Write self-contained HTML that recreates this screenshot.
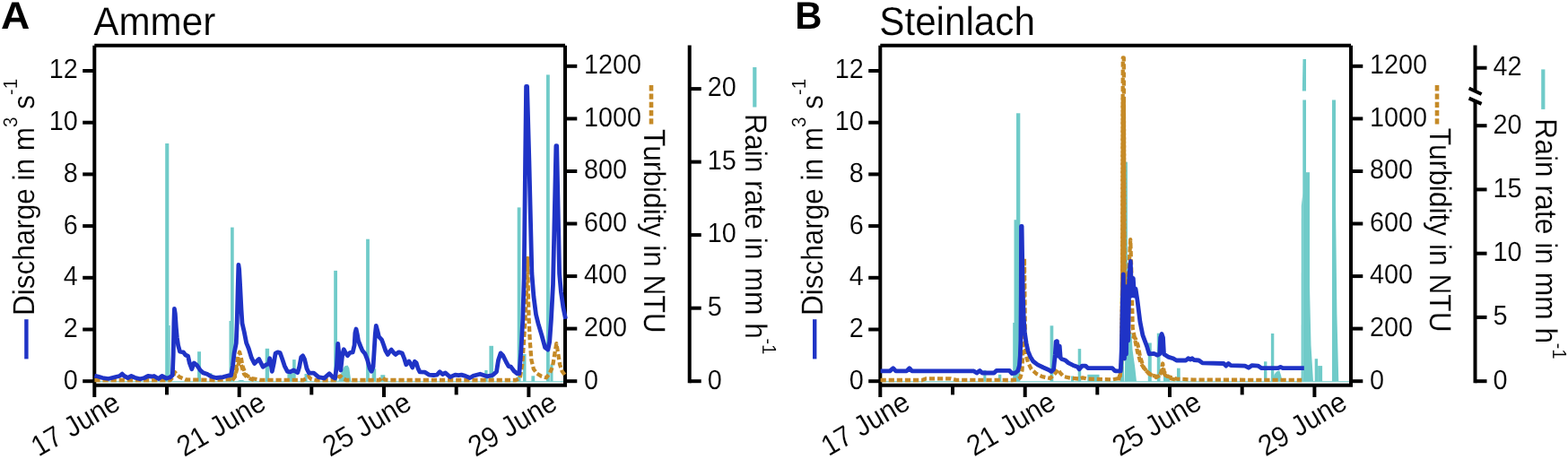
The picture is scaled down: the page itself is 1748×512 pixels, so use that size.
<!DOCTYPE html>
<html lang="en">
<head>
<meta charset="utf-8">
<title>Discharge, turbidity and rain rate: Ammer and Steinlach</title>
<style>
html,body{margin:0;padding:0;background:#fff;}
body{width:1748px;height:512px;overflow:hidden;}
svg{display:block;font-family:"Liberation Sans",Arial,Helvetica,sans-serif;fill:#000;}
text{stroke:#fff;stroke-width:0.15px;paint-order:fill stroke;text-rendering:geometricPrecision;}
text.b{stroke:none;}
</style>
</head>
<body>
<svg width="1748" height="512" viewBox="0 0 1748 512">
<rect x="0" y="0" width="1748" height="512" fill="#fff"/>
<g stroke="#000" stroke-width="4.0" fill="none" stroke-linecap="butt">
<path d="M105.3 443 V50.7 M105.3 50.7 H630.0 M630.0 50.7 V429.8 H105.3"/>
<path d="M92.2 425.2 H105.3"/>
<path d="M630.0 425.2 H643.3"/>
<path d="M92.2 367.5 H105.3"/>
<path d="M630.0 366.6 H643.3"/>
<path d="M92.2 309.8 H105.3"/>
<path d="M630.0 308.1 H643.3"/>
<path d="M92.2 252.1 H105.3"/>
<path d="M630.0 249.5 H643.3"/>
<path d="M92.2 194.4 H105.3"/>
<path d="M630.0 191.0 H643.3"/>
<path d="M92.2 136.7 H105.3"/>
<path d="M630.0 132.4 H643.3"/>
<path d="M92.2 79.0 H105.3"/>
<path d="M630.0 73.8 H643.3"/>
<path d="M186.0 429.8 V440.4"/>
<path d="M266.7 429.8 V443.0"/>
<path d="M347.3 429.8 V440.4"/>
<path d="M428.0 429.8 V443.0"/>
<path d="M508.7 429.8 V440.4"/>
<path d="M589.4 429.8 V443.0"/>
</g>
<g fill="#70cbc9">
<rect x="107.3" y="425.2" width="520.7" height="1.0"/>
<rect x="184.2" y="160.0" width="4.1" height="265.8"/>
<rect x="188.3" y="363.0" width="1.5" height="62.8"/>
<rect x="220.1" y="392.2" width="3.9" height="33.6"/>
<rect x="234.0" y="416.3" width="2.6" height="9.5"/>
<rect x="255.5" y="358.0" width="1.7" height="67.8"/>
<rect x="257.1" y="253.6" width="3.6" height="172.2"/>
<rect x="295.7" y="388.8" width="4.4" height="37.0"/>
<rect x="320.4" y="417.0" width="5.8" height="8.8"/>
<rect x="326.1" y="401.1" width="3.6" height="24.7"/>
<rect x="339.5" y="417.0" width="3.1" height="8.8"/>
<rect x="372.2" y="301.9" width="3.8" height="123.9"/>
<rect x="408.1" y="266.7" width="3.8" height="159.1"/>
<rect x="414.7" y="411.3" width="4.5" height="14.5"/>
<rect x="424.3" y="418.2" width="5.0" height="7.6"/>
<rect x="540.3" y="412.9" width="3.3" height="12.9"/>
<rect x="545.4" y="385.8" width="4.6" height="40.0"/>
<rect x="576.7" y="231.4" width="3.8" height="194.4"/>
<rect x="583.0" y="395.0" width="3.5" height="30.8"/>
<rect x="592.4" y="419.3" width="3.8" height="6.5"/>
<rect x="609.0" y="83.4" width="3.8" height="342.4"/>
<rect x="613.4" y="406.6" width="3.1" height="19.2"/>
<polygon points="377.0,425.5 379.8,418.0 381.0,414.0 384.0,408.5 387.5,407.4 389.3,410.5 390.6,420.0 391.5,425.5"/>
<polygon points="264.0,425.5 267.0,424.0 271.0,424.0 273.0,425.5"/>
</g>
<polyline points="259.0,424.3 262.0,420.0 264.5,410.0 267.0,403.0 269.5,409.0 272.0,417.0 276.0,421.5 283.0,424.0" fill="none" stroke="#c58a27" stroke-width="4.3" stroke-dasharray="6.2 2.9" stroke-linejoin="round"/>
<polyline points="105.4,424.0 190.0,424.0 193.0,420.0 194.8,415.0 197.0,417.5 200.0,420.5 206.8,423.5 240.0,424.0 258.0,423.0 261.4,420.5 263.5,410.0 265.5,397.0 267.1,392.8 268.6,398.0 270.3,408.0 274.1,418.2 280.4,422.0 290.0,423.8 338.0,424.0 341.0,422.5 343.9,420.0 347.0,423.0 352.0,424.0 375.0,424.0 377.3,420.5 379.5,419.5 382.0,422.0 386.0,424.0 423.0,424.0 426.0,420.8 429.0,423.5 435.0,424.0 575.0,424.0 579.7,421.8 582.2,406.6 584.0,381.2 585.5,355.8 587.3,317.7 588.2,288.0 588.9,330.4 589.6,355.8 590.8,381.2 592.4,401.5 594.9,411.7 598.7,416.7 603.8,419.8 608.9,421.3 612.7,416.7 616.0,409.1 618.5,393.9 620.3,383.2 622.1,393.9 624.1,406.6 626.7,414.2 630.5,419.3" fill="none" stroke="#c58a27" stroke-width="4.3" stroke-dasharray="6.2 2.9" stroke-linejoin="round"/>
<polyline points="105.4,419.1 109.3,420.0 114.2,421.5 121.0,422.5 128.8,420.5 133.2,419.5 136.2,417.1 138.6,419.5 142.5,421.5 146.4,419.5 150.3,421.2 156.2,422.8 161.1,421.5 165.0,419.5 168.9,420.0 171.8,419.5 176.7,422.5 180.6,419.5 185.5,422.0 189.4,421.0 192.3,418.7 193.2,395.4 193.9,360.0 194.4,344.5 195.3,350.0 196.3,365.0 197.3,376.3 198.6,385.2 200.5,392.2 204.3,392.8 206.8,396.0 209.6,397.3 211.3,404.9 213.8,411.8 216.3,404.9 219.5,407.4 223.3,413.0 226.5,415.9 230.9,417.2 235.4,420.0 241.1,421.5 248.7,420.6 254.4,419.0 257.6,418.7 259.5,408.1 261.1,394.1 263.3,382.7 264.2,360.0 265.2,320.0 265.9,295.3 266.6,300.0 267.6,318.0 269.0,345.0 270.0,360.6 272.2,370.0 274.7,382.7 277.3,389.0 280.4,399.2 283.6,405.5 286.1,403.0 288.7,400.5 290.6,404.3 293.1,409.3 296.9,406.8 299.4,406.0 300.7,399.8 301.9,405.0 303.3,414.3 305.2,405.5 307.1,394.1 309.6,392.8 312.2,393.5 314.7,400.5 317.2,408.1 320.4,414.3 323.6,414.9 327.4,413.0 331.8,415.6 333.7,409.3 335.7,398.6 337.6,396.9 339.5,400.5 342.0,411.1 344.5,416.2 350.0,416.2 355.1,420.6 361.4,421.9 367.1,416.8 370.9,420.6 373.5,421.9 375.4,408.1 376.7,383.3 377.9,395.4 379.8,413.0 381.7,395.4 383.3,389.7 385.5,394.1 387.4,396.7 390.0,393.5 393.2,392.8 395.1,385.2 395.9,371.3 397.0,367.0 398.2,372.5 399.5,380.2 402.0,386.5 403.9,390.9 407.1,394.8 409.7,401.7 412.2,411.1 414.1,414.3 416.0,409.3 417.3,389.0 418.3,372.5 419.3,363.3 421.1,370.0 422.4,375.7 425.5,378.9 427.4,384.0 430.0,391.6 432.3,395.4 434.4,392.2 436.3,390.1 438.9,393.5 440.8,395.4 444.6,392.8 448.4,394.1 450.9,400.5 452.8,406.8 456.0,403.0 457.6,405.5 459.8,410.0 462.3,403.3 464.2,404.9 466.1,411.1 468.0,414.9 473.8,415.2 478.2,418.1 483.3,418.5 487.1,418.1 490.3,414.7 493.4,417.5 496.6,415.9 501.7,420.6 507.4,418.1 511.2,418.7 514.4,418.1 518.8,419.4 523.9,421.5 527.6,419.3 535.2,417.2 542.9,419.8 549.2,418.5 553.5,414.7 555.6,401.5 558.1,393.9 560.6,396.4 564.4,404.0 567.0,408.6 569.5,409.1 573.3,414.2 576.4,416.7 578.9,416.7 580.9,391.3 582.8,355.8 584.2,310.0 585.6,180.0 586.6,96.3 587.6,96.3 589.9,180.0 592.9,305.0 594.9,330.4 597.5,350.7 600.0,360.9 603.8,373.6 607.6,387.5 610.9,390.1 612.7,381.2 614.5,355.8 616.5,317.7 619.9,162.7 620.7,162.7 623.6,305.0 625.4,325.3 627.9,343.1 630.5,355.8" fill="none" stroke="#1f33c6" stroke-width="4.8" stroke-linejoin="round" stroke-linecap="butt"/>
<text transform="translate(86.70 433.60) scale(1.000 1.060)" font-size="28.8" text-anchor="end">0</text>
<text transform="translate(86.70 375.90) scale(1.000 1.060)" font-size="28.8" text-anchor="end">2</text>
<text transform="translate(86.70 318.20) scale(1.000 1.060)" font-size="28.8" text-anchor="end">4</text>
<text transform="translate(86.70 260.50) scale(1.000 1.060)" font-size="28.8" text-anchor="end">6</text>
<text transform="translate(86.70 202.80) scale(1.000 1.060)" font-size="28.8" text-anchor="end">8</text>
<text transform="translate(86.70 145.10) scale(1.000 1.060)" font-size="28.8" text-anchor="end">10</text>
<text transform="translate(86.70 87.40) scale(1.000 1.060)" font-size="28.8" text-anchor="end">12</text>
<text transform="translate(650.90 433.60) scale(1.000 1.060)" font-size="28.8" text-anchor="start">0</text>
<text transform="translate(650.90 375.04) scale(1.000 1.060)" font-size="28.8" text-anchor="start">200</text>
<text transform="translate(650.90 316.48) scale(1.000 1.060)" font-size="28.8" text-anchor="start">400</text>
<text transform="translate(650.90 257.92) scale(1.000 1.060)" font-size="28.8" text-anchor="start">600</text>
<text transform="translate(650.90 199.36) scale(1.000 1.060)" font-size="28.8" text-anchor="start">800</text>
<text transform="translate(650.90 140.80) scale(1.000 1.060)" font-size="28.8" text-anchor="start">1000</text>
<text transform="translate(650.90 82.24) scale(1.000 1.060)" font-size="28.8" text-anchor="start">1200</text>
<text transform="translate(136.00 455.30) rotate(-30.5) scale(1.000 1.075)" font-size="30.3" text-anchor="end">17 June</text>
<text transform="translate(298.41 455.30) rotate(-30.5) scale(1.000 1.075)" font-size="30.3" text-anchor="end">21 June</text>
<text transform="translate(460.82 455.30) rotate(-30.5) scale(1.000 1.075)" font-size="30.3" text-anchor="end">25 June</text>
<text transform="translate(623.23 455.30) rotate(-30.5) scale(1.000 1.075)" font-size="30.3" text-anchor="end">29 June</text>
<text transform="translate(1.10 32.20) scale(1.040 1.000)" font-size="43.0" text-anchor="start" font-weight="bold" class="b">A</text>
<text transform="translate(104.30 39.30) scale(1.000 1.055)" font-size="42.2" text-anchor="start">Ammer</text>
<text transform="translate(38.20 352.00) rotate(-90.0) scale(1.000 1.070)" font-size="31.5" text-anchor="start">Discharge in m<tspan dy="-17.6" font-size="20.5">3</tspan><tspan dy="17.6"> s</tspan><tspan dy="-17.6" dx="0" font-size="20.5">-1</tspan></text>
<path d="M29.4 356.2 V400.4" stroke="#1f33c6" stroke-width="4.4"/>
<text transform="translate(718.40 144.00) rotate(90.0) scale(1.000 1.070)" font-size="31.7" text-anchor="start">Turbidity in NTU</text>
<path d="M726.0 95.1 V138.6" stroke="#c58a27" stroke-width="4.6" stroke-dasharray="6.3 3"/>
<g stroke="#000" stroke-width="4" fill="none">
<path d="M768.7 50.5 V427.2"/>
<path d="M768.7 425.2 H781.7"/>
<path d="M768.7 343.7 H781.7"/>
<path d="M768.7 262.1 H781.7"/>
<path d="M768.7 180.6 H781.7"/>
<path d="M768.7 99.1 H781.7"/>
</g>
<text transform="translate(788.80 433.50) scale(1.000 1.060)" font-size="28.8" text-anchor="start">0</text>
<text transform="translate(788.80 351.97) scale(1.000 1.060)" font-size="28.8" text-anchor="start">5</text>
<text transform="translate(788.80 270.45) scale(1.000 1.060)" font-size="28.8" text-anchor="start">10</text>
<text transform="translate(788.80 188.93) scale(1.000 1.060)" font-size="28.8" text-anchor="start">15</text>
<text transform="translate(788.80 107.40) scale(1.000 1.060)" font-size="28.8" text-anchor="start">20</text>
<path d="M841.3 75 V119.5" stroke="#70cbc9" stroke-width="4.2"/>
<text transform="translate(830.70 127.00) rotate(90.0) scale(1.000 1.070)" font-size="31.8" text-anchor="start">Rain rate in mm h<tspan dy="-18.2" dx="-0.8" font-size="20.5">-1</tspan></text>
<g stroke="#000" stroke-width="4.0" fill="none" stroke-linecap="butt">
<path d="M981.3 443 V50.7 M981.3 50.7 H1506.0 M1506.0 50.7 V429.8 H981.3"/>
<path d="M968.2 425.2 H981.3"/>
<path d="M1506.0 425.2 H1519.3"/>
<path d="M968.2 367.5 H981.3"/>
<path d="M1506.0 366.6 H1519.3"/>
<path d="M968.2 309.8 H981.3"/>
<path d="M1506.0 308.1 H1519.3"/>
<path d="M968.2 252.1 H981.3"/>
<path d="M1506.0 249.5 H1519.3"/>
<path d="M968.2 194.4 H981.3"/>
<path d="M1506.0 191.0 H1519.3"/>
<path d="M968.2 136.7 H981.3"/>
<path d="M1506.0 132.4 H1519.3"/>
<path d="M968.2 79.0 H981.3"/>
<path d="M1506.0 73.8 H1519.3"/>
<path d="M1062.0 429.8 V440.4"/>
<path d="M1142.7 429.8 V443.0"/>
<path d="M1223.3 429.8 V440.4"/>
<path d="M1304.0 429.8 V443.0"/>
<path d="M1384.7 429.8 V440.4"/>
<path d="M1465.4 429.8 V443.0"/>
</g>
<g fill="#70cbc9">
<rect x="983.3" y="425.2" width="520.7" height="1.0"/>
<rect x="1096.3" y="412.8" width="3.1" height="13.0"/>
<rect x="1112.9" y="417.8" width="3.4" height="8.0"/>
<rect x="1129.2" y="360.0" width="2.0" height="65.8"/>
<rect x="1130.5" y="245.2" width="2.9" height="180.6"/>
<rect x="1133.0" y="126.3" width="4.3" height="299.5"/>
<rect x="1170.6" y="363.3" width="3.7" height="62.5"/>
<rect x="1201.7" y="389.1" width="3.5" height="36.7"/>
<rect x="1212.3" y="417.8" width="13.2" height="8.0"/>
<rect x="1194.0" y="419.5" width="3.0" height="6.3"/>
<rect x="1249.0" y="355.0" width="4.0" height="70.8"/>
<rect x="1254.3" y="180.7" width="2.6" height="245.1"/>
<rect x="1279.8" y="382.5" width="4.0" height="43.3"/>
<rect x="1289.8" y="371.7" width="3.7" height="54.1"/>
<rect x="1312.0" y="410.7" width="3.7" height="15.1"/>
<rect x="1297.0" y="419.0" width="7.0" height="6.8"/>
<rect x="1409.0" y="403.3" width="3.4" height="22.5"/>
<rect x="1416.9" y="372.0" width="3.4" height="53.8"/>
<rect x="1465.7" y="400.2" width="3.4" height="25.6"/>
<rect x="1469.1" y="408.1" width="5.0" height="17.7"/>
<rect x="1452.3" y="111.5" width="3.7" height="314.3"/>
<rect x="1455.6" y="192.2" width="4.4" height="233.6"/>
<rect x="1485.0" y="111.5" width="4.0" height="314.3"/>
<polygon points="1419.3,425.5 1420.3,418.0 1423.3,414.2 1426.3,413.3 1428.0,418.5 1429.6,425.5"/>
<polygon points="1253.5,425.5 1254.5,400.0 1258.2,372.0 1261.5,371.0 1262.5,390.0 1265.3,410.0 1267.0,425.5"/>
<polygon points="1450.6,425.5 1450.8,230.0 1452.4,215.0 1452.4,425.5"/>
<polygon points="1460.0,425.5 1460.0,320.0 1461.5,385.0 1464.0,425.5"/>
<polygon points="1488.8,425.5 1488.8,210.0 1490.4,350.0 1492.3,425.5"/>
<polygon points="1452.3,101.6 1451.8,101.6 1452.5,66.0 1456.0,66.0 1456.0,101.6"/>
</g>
<polyline points="1247.0,424.3 1250.0,410.0 1251.2,320.0 1251.8,110.0 1252.8,110.0 1253.8,330.0 1256.0,360.0 1259.0,372.0 1263.0,375.0 1266.0,378.0 1268.5,385.0 1271.0,398.0 1275.0,410.0 1281.0,417.0 1289.0,421.0 1294.0,418.0 1296.3,412.0 1298.5,418.0 1304.0,422.0 1312.0,424.0" fill="none" stroke="#c58a27" stroke-width="4.3" stroke-dasharray="6.2 2.9" stroke-linejoin="round"/>
<polyline points="981.6,424.0 1028.0,424.0 1032.0,422.4 1060.0,422.4 1066.0,423.8 1128.0,424.0 1134.0,423.5 1137.5,421.0 1139.5,413.0 1140.6,380.0 1141.3,330.0 1141.9,288.0 1142.4,330.0 1142.8,375.0 1143.6,395.4 1146.0,404.3 1149.8,411.9 1155.5,417.0 1161.9,420.1 1170.8,422.0 1176.7,416.0 1179.3,412.0 1182.0,416.0 1185.9,420.0 1193.8,421.8 1203.0,422.6 1207.0,421.3 1212.0,422.6 1240.0,423.4 1248.5,422.0 1250.3,400.0 1251.2,300.0 1251.8,64.5 1252.8,64.5 1253.4,300.0 1254.5,340.0 1256.0,330.0 1258.5,300.0 1260.2,267.1 1261.2,300.0 1262.7,365.9 1265.3,379.1 1268.0,392.3 1271.9,405.5 1277.2,413.4 1283.8,418.6 1290.4,420.0 1294.3,416.0 1296.2,405.5 1297.7,414.7 1302.2,420.0 1311.5,422.6 1330.0,423.6 1451.2,424.0" fill="none" stroke="#c58a27" stroke-width="4.3" stroke-dasharray="6.2 2.9" stroke-linejoin="round"/>
<polyline points="981.6,413.9 992.0,413.9 995.6,410.7 998.7,413.9 1010.6,413.9 1013.8,410.7 1016.7,413.9 1085.7,413.9 1088.9,416.0 1092.3,413.4 1095.0,416.0 1108.1,416.0 1110.8,413.4 1125.3,413.4 1127.9,416.5 1131.9,416.0 1134.8,413.5 1136.4,408.0 1137.3,397.0 1137.9,379.0 1138.3,326.4 1138.5,252.3 1139.1,252.3 1140.3,330.0 1141.4,358.0 1142.4,371.0 1144.1,382.7 1146.0,391.6 1148.6,397.9 1151.7,403.0 1156.8,406.8 1163.2,410.0 1168.9,412.5 1172.0,414.4 1174.6,411.9 1176.3,395.4 1177.2,381.0 1178.4,380.6 1179.1,397.0 1179.8,385.7 1181.2,386.0 1182.2,399.0 1183.5,400.5 1187.3,401.7 1191.1,404.9 1196.2,407.4 1201.2,409.3 1203.1,411.9 1206.3,408.1 1210.1,408.1 1212.7,410.6 1240.0,410.7 1242.6,413.4 1244.2,413.9 1249.3,413.9 1250.3,390.0 1251.3,340.0 1252.3,305.8 1253.5,400.0 1254.5,320.0 1255.5,395.0 1256.7,319.4 1257.7,380.0 1258.8,310.0 1260.3,291.5 1261.5,330.0 1263.3,310.3 1264.5,330.0 1266.0,322.0 1267.9,334.5 1270.9,358.8 1273.9,373.9 1278.5,386.1 1281.1,394.9 1286.4,394.4 1290.4,396.2 1292.8,394.9 1293.7,376.5 1295.1,372.5 1296.5,376.5 1297.5,394.9 1302.2,398.1 1307.5,399.7 1311.5,402.0 1322.0,402.0 1324.6,399.7 1327.2,401.0 1329.0,399.7 1331.0,401.5 1336.5,402.0 1340.5,404.9 1364.2,405.5 1366.8,408.1 1369.4,405.5 1372.1,407.6 1387.9,408.1 1391.9,410.2 1395.8,407.6 1402.4,408.1 1406.4,410.7 1424.8,410.7 1427.5,409.4 1430.1,410.7 1453.8,410.7" fill="none" stroke="#1f33c6" stroke-width="4.8" stroke-linejoin="round" stroke-linecap="butt"/>
<text transform="translate(962.70 433.60) scale(1.000 1.060)" font-size="28.8" text-anchor="end">0</text>
<text transform="translate(962.70 375.90) scale(1.000 1.060)" font-size="28.8" text-anchor="end">2</text>
<text transform="translate(962.70 318.20) scale(1.000 1.060)" font-size="28.8" text-anchor="end">4</text>
<text transform="translate(962.70 260.50) scale(1.000 1.060)" font-size="28.8" text-anchor="end">6</text>
<text transform="translate(962.70 202.80) scale(1.000 1.060)" font-size="28.8" text-anchor="end">8</text>
<text transform="translate(962.70 145.10) scale(1.000 1.060)" font-size="28.8" text-anchor="end">10</text>
<text transform="translate(962.70 87.40) scale(1.000 1.060)" font-size="28.8" text-anchor="end">12</text>
<text transform="translate(1526.90 433.60) scale(1.000 1.060)" font-size="28.8" text-anchor="start">0</text>
<text transform="translate(1526.90 375.04) scale(1.000 1.060)" font-size="28.8" text-anchor="start">200</text>
<text transform="translate(1526.90 316.48) scale(1.000 1.060)" font-size="28.8" text-anchor="start">400</text>
<text transform="translate(1526.90 257.92) scale(1.000 1.060)" font-size="28.8" text-anchor="start">600</text>
<text transform="translate(1526.90 199.36) scale(1.000 1.060)" font-size="28.8" text-anchor="start">800</text>
<text transform="translate(1526.90 140.80) scale(1.000 1.060)" font-size="28.8" text-anchor="start">1000</text>
<text transform="translate(1526.90 82.24) scale(1.000 1.060)" font-size="28.8" text-anchor="start">1200</text>
<text transform="translate(1016.60 454.70) rotate(-30.5) scale(1.000 1.075)" font-size="30.3" text-anchor="end">17 June</text>
<text transform="translate(1179.01 454.70) rotate(-30.5) scale(1.000 1.075)" font-size="30.3" text-anchor="end">21 June</text>
<text transform="translate(1341.42 454.70) rotate(-30.5) scale(1.000 1.075)" font-size="30.3" text-anchor="end">25 June</text>
<text transform="translate(1503.83 454.70) rotate(-30.5) scale(1.000 1.075)" font-size="30.3" text-anchor="end">29 June</text>
<text transform="translate(886.30 32.20) scale(0.970 1.000)" font-size="43.0" text-anchor="start" font-weight="bold" class="b">B</text>
<text transform="translate(980.30 39.30) scale(1.000 1.055)" font-size="42.2" text-anchor="start">Steinlach</text>
<text transform="translate(916.80 352.00) rotate(-90.0) scale(1.000 1.070)" font-size="31.5" text-anchor="start">Discharge in m<tspan dy="-17.6" font-size="20.5">3</tspan><tspan dy="17.6"> s</tspan><tspan dy="-17.6" dx="0" font-size="20.5">-1</tspan></text>
<path d="M908.2 356.2 V400.4" stroke="#1f33c6" stroke-width="4.4"/>
<text transform="translate(1594.40 142.80) rotate(90.0) scale(1.000 1.070)" font-size="31.7" text-anchor="start">Turbidity in NTU</text>
<path d="M1602.0 95.1 V138.6" stroke="#c58a27" stroke-width="4.6" stroke-dasharray="6.3 3"/>
<g stroke="#000" stroke-width="4" fill="none">
<path d="M1644.5 50.5 V101.5 M1644.5 112 V427.2"/>
<path d="M1637.6 98.5 L1651.6 105 M1637.6 109.7 L1651.6 115.8"/>
<path d="M1644.5 425.2 H1657.5"/>
<path d="M1644.5 353.9 H1657.5"/>
<path d="M1644.5 282.7 H1657.5"/>
<path d="M1644.5 211.4 H1657.5"/>
<path d="M1644.5 140.2 H1657.5"/>
<path d="M1644.5 75.7 H1657.5"/>
</g>
<text transform="translate(1664.60 433.50) scale(1.000 1.060)" font-size="28.8" text-anchor="start">0</text>
<text transform="translate(1664.60 362.25) scale(1.000 1.060)" font-size="28.8" text-anchor="start">5</text>
<text transform="translate(1664.60 291.00) scale(1.000 1.060)" font-size="28.8" text-anchor="start">10</text>
<text transform="translate(1664.60 219.75) scale(1.000 1.060)" font-size="28.8" text-anchor="start">15</text>
<text transform="translate(1664.60 148.50) scale(1.000 1.060)" font-size="28.8" text-anchor="start">20</text>
<text transform="translate(1664.60 84.00) scale(1.000 1.060)" font-size="28.8" text-anchor="start">42</text>
<path d="M1720.3 77.4 V121.9" stroke="#70cbc9" stroke-width="4.2"/>
<text transform="translate(1711.60 132.30) rotate(90.0) scale(1.000 1.070)" font-size="31.8" text-anchor="start">Rain rate in mm h<tspan dy="-18.2" dx="-0.8" font-size="20.5">-1</tspan></text>
</svg>
</body>
</html>
